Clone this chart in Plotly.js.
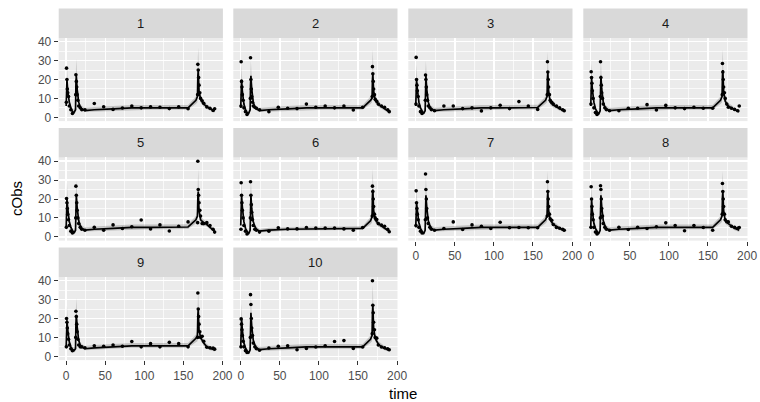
<!DOCTYPE html>
<html><head><meta charset="utf-8">
<script src="https://cdn.plot.ly/plotly-3.0.1.min.js"></script>
<style>html,body{margin:0;padding:0;background:#fff}#chart{width:760px;height:402px}</style>
</head><body><div id="chart"></div>
<script>
// ---------- data ----------
const panelIds = ['1','2','3','4','5','6','7','8','9','10'];
const xTicks = [0, 50, 100, 150, 200];
const yTicks = [0, 10, 20, 30, 40];

const obsTime = [0.25,0.5,1,1.5,2,3,4,6,8, 12.25,12.5,13,13.5,14,15,16,18,20,24, 36,48,60,72,84,96,108,120,132,144,156, 168.25,168.5,169,169.5,170,171,172,174,176,180,184,188,190];
const predTime = [0,0.5,1,2,3,4,6,8,10,12, 12.5,13,14,15,16,18,20,24, 36,60,84,108,132,156, 166,168,168.5,169,170,171,172,176,180,184,190];

const obs1  = [8,26,20,15,13,11,6,4,2, 12,22.5,19,16,12,9,6,5,4,4, 7.3,5.6,4.2,4.9,6,5,5.5,5.3,4.6,5.5,4.5, 12,28,25,21,17,13,10,8.8,7.4,5.5,4.8,3.6,4.5];
const obs2  = [6,29.4,19,16,12,9,5,3,1.5, 10,31.5,20,15,11,8,6,5.3,4.8,4, 3,5.3,4.8,4.6,7,5.3,6,5,6,3.9,5.3, 11,26.8,23,19,15,12,9.5,8.5,7,6,5.3,4,3];
const obs3  = [7,31.7,20,17,14,11,6,3,2, 9,22.4,20,16,12,9,6,5,4,3.5, 6,6,4.6,5,3.4,5,6.4,4.6,8.3,6,4.2, 12,29.4,24,20,16,12,9,8,7,6,5,4,3.5];
const obs4  = [7,24.1,21,18,14,10,5,2.5,1.5, 11,29.4,21,17,13,10,7,5,4,3.5, 3.5,4.8,4.8,6.7,3.9,6.3,5,4.6,5.3,4.8,4.8, 12,28.5,24,20,16,13,10,7,5.3,4.8,4.2,3.5,6];
const obs5  = [5,20.3,18,15,12,9,6,3,2, 10,26.8,22,18,14,10,7,5,4,3.5, 5,3.5,6.3,4.4,5.3,8.9,4.2,6.3,3.1,5.6,7.9, 7.5,40,25,22,18,14,11,7,7,7.5,6,4,2.5];
const obs6  = [4,28.6,22,18,14,10,6,3,1.5, 10,29.1,22,17,13,9,6,4,3.5,2.5, 3,4.8,4.2,4.2,4.9,4.6,4.6,4.6,4.2,3.5,4.9, 11,26.8,24,20,16,12,10,9.1,7,6.2,5.6,4,2.7];
const obs7  = [6,24.3,18,15,12,9,5,3,2, 9,33.2,25,20,15,10,7,5,4,3.5, 4.4,7.9,3.9,6.3,5.6,4.4,7.7,4.8,4.9,4.8,4.8, 11,29.1,24,20,16,12,9.5,8.8,6.5,4.9,4.5,4,3.5];
const obs8  = [5,26.5,20,16,12,9,5,2.5,1.5, 10,27,25,20,15,11,7,5,4,3.5, 5,3.9,5,4.4,5.3,7.4,6,3.2,6,4.9,3.5, 12,28.2,24,20,16,12,9,8,7.9,5.6,5,4.5,4.9];
const obs9  = [5,20,18,15,12,9,6,4,3, 10,23.8,21,17,13,9,6,5,5,4.5, 5.6,5.3,6,5.3,7.8,5,6.7,5,7.4,6.7,5, 10,33.5,25,21,17,13,10,10.6,8,4.8,4.5,4.4,3.8];
const obs10 = [5,19.8,17,14,11,8,5,3,2, 10,32.6,27.4,20,15,11,7,5,4,3.2, 4.4,5.3,5.6,3.5,4.2,4.9,5.6,7.8,8.3,4.2,4.9, 12,40,27,23,18,14,10,9.6,6,4.9,4.5,4,3.5];

const pred1  = [6,18,20,14,10,8,5,3,2.5,4, 18,22,15,11,8,5.5,4.5,3.5, 4,4.5,5,5,5,5, 9,11,22,25,14,11,9.5,7,5.5,4.5,3.5];
const lo1    = [3,12,15,11,8,6,3.5,2,1.5,2.5, 13,17,12,9,6.5,4.5,3.5,2.8, 3,3.5,4,4,4,4, 7,8,17,20,11,9,8,5.5,4.5,3.5,2.5];
const hi1    = [9,26,28,18,13,10,7,4.5,4,6, 26,31,20,14,10,7,6,5, 5.5,6,6.5,6.5,6.5,6.5, 11,14,32,37,18,14,12,8.5,7,5.5,4.5];
const pred2  = [5,18,20,14,10,7,4,2.5,2,4, 17,22,15,11,8,5.5,4.5,3.5, 4,4.5,5,5,5,5, 9,10,20,23,14,11,9,7,5.5,4.5,3];
const lo2    = [3,13,15,11,8,5.5,3,1.5,1.2,2.5, 12,17,12,9,6.5,4.5,3.5,2.8, 3,3.5,4,4,4,4, 7,8,16,18,11,9,7.5,5.5,4.5,3.5,2.2];
const hi2    = [8,26,28,18,13,9,6,4,3.5,6, 25,30,20,14,10,7,6,5, 5.5,6,6.5,6.5,6.5,6.5, 11,13,30,36,18,14,11.5,8.5,7,5.5,4];
const pred3  = [6,18,20,15,11,8,5,3,2,3.5, 17,22,15,11,8,5.5,4.5,3.5, 4,4.5,5,5,5.2,5.2, 9,11,21,24,14,10,8,6.5,5.5,4.5,3.5];
const lo3    = [3,13,15,12,8.5,6,3.5,2,1.2,2.2, 12,17,12,9,6.5,4.5,3.5,2.8, 3,3.5,4,4,4.2,4.2, 7,8,16,19,11,8,6.5,5,4.5,3.5,2.5];
const hi3    = [9,26,28,19,14,10,7,4.5,3.5,5.5, 25,30,20,14,10,7,6,5, 5.5,6,6.5,6.5,6.7,6.7, 11,14,30,35,18,13,10,8,7,5.5,4.5];
const pred4  = [6,19,21,15,11,8,4.5,2.5,1.5,3.5, 17,22,15,11,8,5.5,4.5,3.5, 4,4.5,5,5,5,5, 9,11,22,25,14,10,8.5,6,5,4,3];
const lo4    = [3,14,16,12,8.5,6,3,1.5,0.8,2.2, 12,17,12,9,6.5,4.5,3.5,2.8, 3,3.5,4,4,4,4, 7,8,17,20,11,8,7,4.8,4,3,2.2];
const hi4    = [9,27,29,19,14,10,6.5,4,3,5.5, 25,30,20,14,10,7,6,5, 5.5,6,6.5,6.5,6.5,6.5, 11,14,31,36,18,13,11,7.5,6.5,5,4];
const pred5  = [5,18,20,15,11,8,5,3,2,3.5, 17,22,16,12,8.5,6,4.5,3.5, 4,4.5,5,5,5,5.2, 9,11,21,24,14,11,9,7.5,6.5,5,3];
const lo5    = [3,12,15,12,8.5,6,3.5,2,1.2,2.2, 12,17,13,9.5,7,5,3.5,2.8, 3,3.5,4,4,4,4.2, 7,8,16,19,11,9,7.5,6,5.5,4,2.2];
const hi5    = [8,27,29,19,14,10,7,4.5,3.5,5.5, 25,30,21,15,10.5,7.5,6,5, 5.5,6,6.5,6.5,6.5,6.7, 11,14,30,36,18,14,11,9,8,6.5,4];
const pred6  = [6,20,22,16,11,8,4.5,2.5,1.5,3.5, 17,22,15,11,8,5.5,4,3, 3.5,4,4.2,4.2,4.2,4.5, 8.5,10.5,22,25,14,10.5,9,7,5.5,4.5,3];
const lo6    = [3,15,17,13,8.5,6,3,1.5,0.8,2.2, 12,17,12,9,6.5,4.5,3,2.3, 2.7,3.2,3.4,3.4,3.4,3.7, 6.5,7.5,17,20,11,8.5,7.5,5.5,4.5,3.5,2.2];
const hi6    = [9,28,30,20,14,10,6.5,4,3,5.5, 25,30,20,14,10,7,5.5,4.2, 4.8,5.2,5.4,5.4,5.4,5.7, 10.5,13.5,31,36,18,13,11,8.5,7,5.5,4];
const pred7  = [5,16,18,14,10,7.5,4.5,2.5,1.5,3.5, 17,22,16,12,8.5,6,4.5,3.5, 4,4.5,5,5,5,5, 9,11,21,24,14,10.5,9,6.5,5.5,4.5,3.2];
const lo7    = [3,11,14,11,7.5,5.5,3,1.5,0.8,2.2, 12,17,13,9.5,7,5,3.5,2.8, 3,3.5,4,4,4,4, 7,8,16,19,11,8.5,7.5,5,4.5,3.5,2.4];
const hi7    = [8,24,26,18,13,9.5,6.5,4,3,5.5, 26,32,21,15,10.5,7.5,6,5, 5.5,6,6.5,6.5,6.5,6.5, 11,14,30,35,18,13,11,8,7,5.5,4.2];
const pred8  = [5,18,20,14,10,7,4.5,2.5,1.5,3.5, 17,22,16,12,8.5,6,4.5,3.5, 4,4.5,5,5,5,5, 9,11,21,24,14,10.5,8.5,7,5.5,4.5,3.5];
const lo8    = [3,13,15,11,7.5,5.5,3,1.5,0.8,2.2, 12,17,13,9.5,7,5,3.5,2.8, 3,3.5,4,4,4,4, 7,8,16,19,11,8.5,7,5.5,4.5,3.5,2.6];
const hi8    = [8,26,28,18,13,9,6.5,4,3,5.5, 25,30,21,15,10.5,7.5,6,5, 5.5,6,6.5,6.5,6.5,6.5, 11,14,30,35,18,13,10.5,8.5,7,5.5,4.5];
const pred9  = [5,17,19,14,10,7.5,5,3.5,3,4, 17,22,16,12,8.5,6,5,4, 4.5,5,5.5,5.5,5.5,5.5, 9.5,11,22,25,14,11,10,7,5,4.2,3.5];
const lo9    = [3,12,14,11,7.5,5.5,3.5,2.5,2,2.8, 12,17,13,9.5,7,5,4,3.2, 3.5,4,4.5,4.5,4.5,4.5, 7.5,8,17,20,11,9,8.5,5.5,4,3.2,2.6];
const hi9    = [8,25,27,18,13,9.5,7,5,4.5,6, 26,31,21,15,10.5,7.5,6.5,5.5, 6,6.5,7,7,7,7, 11.5,14,31,36,18,14,12,8.5,6.5,5.5,4.5];
const pred10 = [5,18,20,14,10,7,4.5,2.5,1.5,3.5, 18,23,16,12,8.5,6,4.5,3.5, 4,4.5,5,5,5,5, 9,11,23,27,15,11,9.5,6.5,5,4.2,3.2];
const lo10   = [3,13,15,11,7.5,5.5,3,1.5,0.8,2.2, 13,18,13,9.5,7,5,3.5,2.8, 3,3.5,4,4,4,4, 7,8,18,22,12,9,8,5,4,3.2,2.4];
const hi10   = [8,26,28,18,13,9,6.5,4,3,5.5, 27,32,21,15,10.5,7.5,6,5, 5.5,6,6.5,6.5,6.5,6.5, 11,14,33,38,19,14,11.5,8,6.5,5.5,4.2];

const obsSets  = [obs1,obs2,obs3,obs4,obs5,obs6,obs7,obs8,obs9,obs10];
const predSets = [pred1,pred2,pred3,pred4,pred5,pred6,pred7,pred8,pred9,pred10];
const loSets   = [lo1,lo2,lo3,lo4,lo5,lo6,lo7,lo8,lo9,lo10];
const hiSets   = [hi1,hi2,hi3,hi4,hi5,hi6,hi7,hi8,hi9,hi10];

// ---------- layout geometry (pixels) ----------
const W = 760, H = 402;
const colLeft = [58.7, 233.3, 408.3, 583.3];
const panelW = 164.2;
const rowTop = [37.9, 157.4, 276.9];
const panelH = 83.2;
const stripH = 29.3;
const FONT = 'Liberation Sans, Arial, Helvetica, sans-serif';

const traces = [];
const layout = {
  width: W, height: H,
  margin: {l:0, r:0, t:0, b:0},
  paper_bgcolor: '#FFFFFF',
  plot_bgcolor: '#EBEBEB',
  showlegend: false,
  font: {family: FONT, color: '#4D4D4D', size: 12},
  shapes: [],
  annotations: []
};

panelIds.forEach((id, i) => {
  const col = i % 4, row = Math.floor(i / 4);
  const sfx = i === 0 ? '' : String(i + 1);
  const xa = 'x' + sfx, ya = 'y' + sfx;
  const showX = (i >= 6);
  const showY = (col === 0);

  traces.push({x: predTime, y: loSets[i], xaxis: xa, yaxis: ya, type: 'scatter', mode: 'lines',
    line: {width: 0, color: 'rgba(0,0,0,0)'}, hoverinfo: 'skip'});
  traces.push({x: predTime, y: hiSets[i], xaxis: xa, yaxis: ya, type: 'scatter', mode: 'lines',
    fill: 'tonexty', fillcolor: 'rgba(0,0,0,0.18)', line: {width: 0, color: 'rgba(0,0,0,0)'}, hoverinfo: 'skip'});
  traces.push({x: predTime, y: predSets[i], xaxis: xa, yaxis: ya, type: 'scatter', mode: 'lines',
    line: {width: 1.7, color: '#000000'}});
  traces.push({x: obsTime, y: obsSets[i], xaxis: xa, yaxis: ya, type: 'scatter', mode: 'markers',
    marker: {size: 3.6, color: '#000000'}});

  const x0 = colLeft[col], y0 = rowTop[row];
  layout['xaxis' + sfx] = {
    domain: [x0 / W, (x0 + panelW) / W], anchor: ya,
    range: [-9.55, 200.55], tickvals: xTicks, ticktext: xTicks.map(String),
    showticklabels: showX, ticks: showX ? 'outside' : '', ticklen: 4, tickwidth: 1, tickcolor: '#333333',
    showgrid: true, gridcolor: '#FFFFFF', gridwidth: 1.4, zeroline: false, showline: false,
    minor: {tickvals: [25, 75, 125, 175], showgrid: true, gridcolor: '#FFFFFF', gridwidth: 0.7, ticks: ''},
    tickfont: {family: FONT, size: 12, color: '#4D4D4D'}, fixedrange: true
  };
  layout['yaxis' + sfx] = {
    domain: [1 - (y0 + panelH) / H, 1 - y0 / H], anchor: xa,
    range: [-2, 42], tickvals: yTicks, ticktext: yTicks.map(String),
    showticklabels: showY, ticks: showY ? 'outside' : '', ticklen: 4, tickwidth: 1, tickcolor: '#333333',
    showgrid: true, gridcolor: '#FFFFFF', gridwidth: 1.4, zeroline: false, showline: false,
    minor: {tickvals: [5, 15, 25, 35], showgrid: true, gridcolor: '#FFFFFF', gridwidth: 0.7, ticks: ''},
    tickfont: {family: FONT, size: 12, color: '#4D4D4D'}, fixedrange: true
  };

  // facet strip
  layout.shapes.push({type: 'rect', xref: 'paper', yref: 'paper', layer: 'below',
    x0: x0 / W, x1: (x0 + panelW) / W, y0: 1 - y0 / H, y1: 1 - (y0 - stripH) / H,
    fillcolor: '#D9D9D9', line: {width: 0}});
  layout.annotations.push({xref: 'paper', yref: 'paper', x: (x0 + panelW / 2) / W,
    y: 1 - (y0 - stripH / 2) / H, text: id, showarrow: false, xanchor: 'center', yanchor: 'middle',
    font: {family: FONT, size: 13, color: '#1A1A1A'}});
});

layout.annotations.push({xref: 'paper', yref: 'paper', x: 403 / W, y: 1 - 393 / H, text: 'time',
  showarrow: false, xanchor: 'center', yanchor: 'middle', font: {family: FONT, size: 15, color: '#000000'}});
layout.annotations.push({xref: 'paper', yref: 'paper', x: 16 / W, y: 1 - 199 / H, text: 'cObs',
  textangle: -90, showarrow: false, xanchor: 'center', yanchor: 'middle', font: {family: FONT, size: 15, color: '#000000'}});

Plotly.newPlot('chart', traces, layout, {staticPlot: true, displayModeBar: false});
</script>
</body></html>
